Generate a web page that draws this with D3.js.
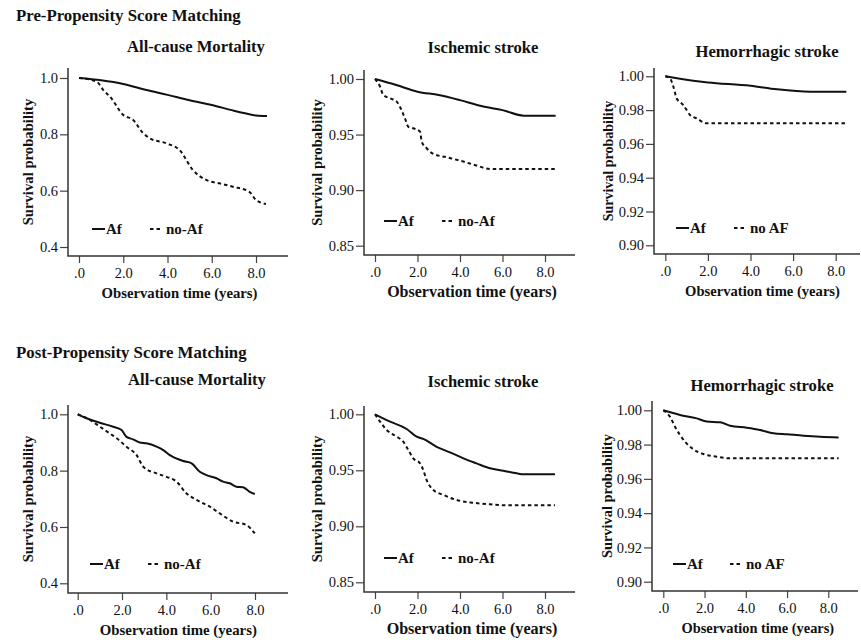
<!DOCTYPE html>
<html>
<head>
<meta charset="utf-8">
<script src="https://cdn.jsdelivr.net/npm/d3@7"></script>
<style>
  body { margin: 0; background: #fff; }
  text { font-family: "Liberation Serif", "Times New Roman", serif; fill: #111; }
</style>
</head>
<body>
<div id="chart"></div>
<script>
// Kaplan-Meier estimates: [years, survival]
const preMortalityAf = [[0, 1.0], [1, 0.992], [2, 0.979], [3, 0.958], [4, 0.94], [5, 0.921], [6, 0.904], [7, 0.884], [7.5, 0.875], [8, 0.867], [8.5, 0.865]]
const preMortalityNoAf = [[0, 1.0], [0.8, 0.987], [1.1, 0.957], [1.4, 0.934], [2.0, 0.869], [2.45, 0.851], [2.9, 0.804], [3.2, 0.786], [3.95, 0.768], [4.55, 0.744], [5.15, 0.673], [5.75, 0.638], [6.35, 0.626], [6.95, 0.614], [7.7, 0.596], [8.0, 0.567], [8.45, 0.553]]

const preIschemicAf = [[0, 1.0], [1, 0.9946], [2, 0.9886], [3, 0.9856], [4, 0.981], [5, 0.9757], [6, 0.972], [7, 0.967], [8.5, 0.967]]
const preIschemicNoAf = [[0, 1.0], [0.24, 0.993], [0.39, 0.9856], [0.71, 0.9826], [1.02, 0.9796], [1.25, 0.972], [1.41, 0.9646], [1.57, 0.957], [1.8, 0.9557], [2.12, 0.9526], [2.2, 0.9436], [2.43, 0.9377], [2.75, 0.9326], [3.37, 0.9296], [4.16, 0.9257], [4.78, 0.9221], [5.41, 0.919], [8.47, 0.919]]

const preHemorrhagicAf = [[0, 1.0], [1.31, 0.9974], [2, 0.9964], [4, 0.9944], [5.24, 0.9923], [6.8, 0.9909], [8.5, 0.9909]]
const preHemorrhagicNoAf = [[0, 1.0], [0.22, 0.9988], [0.38, 0.9938], [0.53, 0.987], [0.85, 0.983], [1.16, 0.9771], [1.47, 0.9751], [1.94, 0.9722], [8.5, 0.9722]]

const postMortalityAf = [[0, 1.0], [0.4, 0.986], [1.0, 0.97], [1.6, 0.956], [1.98, 0.944], [2.2, 0.92], [2.5, 0.911], [2.8, 0.9], [3.1, 0.897], [3.56, 0.885], [3.86, 0.873], [4.16, 0.855], [4.76, 0.834], [5.14, 0.826], [5.51, 0.796], [5.81, 0.784], [6.26, 0.773], [6.56, 0.761], [6.86, 0.755], [7.16, 0.743], [7.46, 0.741], [7.76, 0.725], [7.99, 0.717]]
const postMortalityNoAf = [[0, 1.0], [0.55, 0.98], [1.0, 0.956], [1.45, 0.932], [1.76, 0.915], [2.2, 0.885], [2.66, 0.855], [2.96, 0.814], [3.56, 0.79], [4.01, 0.778], [4.46, 0.761], [4.91, 0.719], [5.36, 0.696], [5.96, 0.672], [6.41, 0.648], [7.01, 0.619], [7.61, 0.607], [7.99, 0.577]]

const postIschemicAf = [[0, 1.0], [0.71, 0.9934], [1.49, 0.9869], [1.96, 0.98], [2.27, 0.978], [2.9, 0.971], [3.53, 0.966], [4.16, 0.9607], [4.78, 0.9562], [5.41, 0.9518], [6.04, 0.9496], [6.67, 0.9473], [6.98, 0.9464], [8.47, 0.9464]]
const postIschemicNoAf = [[0, 1.0], [0.24, 0.9934], [0.55, 0.986], [1.02, 0.98], [1.33, 0.9755], [1.57, 0.968], [1.8, 0.9607], [2.12, 0.9562], [2.27, 0.9503], [2.43, 0.9413], [2.75, 0.9324], [3.22, 0.928], [3.84, 0.9235], [4.63, 0.921], [5.41, 0.9196], [6.2, 0.9187], [8.47, 0.9187]]

const postHemorrhagicAf = [[0, 1.0], [0.81, 0.9973], [1.62, 0.9953], [2.11, 0.9934], [2.75, 0.993], [3.24, 0.991], [4.05, 0.9898], [4.69, 0.9885], [5.34, 0.9866], [5.99, 0.986], [6.8, 0.9852], [7.61, 0.9846], [8.5, 0.9842]]
const postHemorrhagicNoAf = [[0, 1.0], [0.32, 0.9963], [0.57, 0.9904], [0.81, 0.9856], [1.13, 0.9807], [1.46, 0.9772], [1.94, 0.9745], [2.59, 0.9729], [3.24, 0.972], [8.5, 0.972]]

const xTicks = [0, 2, 4, 6, 8]
const mortalityTicks = [0.4, 0.6, 0.8, 1.0]
const ischemicTicks = [0.85, 0.90, 0.95, 1.00]
const hemorrhagicTicks = [0.90, 0.92, 0.94, 0.96, 0.98, 1.00]

const sectionTitles = ['Pre-Propensity Score Matching', 'Post-Propensity Score Matching']

// Layout: pixel positions of first/last ticks, axis box and legend spot.
// The source panels were pasted at slightly different scales, hence the
// per-panel label sizes.
const panels = [
    { title: 'All-cause Mortality', af: preMortalityAf, noAf: preMortalityNoAf, ticks: mortalityTicks, fmt: '.1f',
      x: [79, 256], y: [247, 78], box: [68, 288, 68, 256], titleX: 196, titleY: 52, ylabX: 28,
      xlabSize: 14.7, ylabSize: 14.7, legend: [92, 229, 150], noLabel: 'no-Af' },
    { title: 'Ischemic stroke', af: preIschemicAf, noAf: preIschemicNoAf, ticks: ischemicTicks, fmt: '.2f',
      x: [375, 545], y: [245.7, 79], box: [364, 575, 70, 255], titleX: 483, titleY: 53, ylabX: 317,
      xlabSize: 16, ylabSize: 14.7, legend: [384, 221, 442], noLabel: 'no-Af' },
    { title: 'Hemorrhagic stroke', af: preHemorrhagicAf, noAf: preHemorrhagicNoAf, ticks: hemorrhagicTicks, fmt: '.2f',
      x: [665.3, 835.7], y: [245.3, 76.3], box: [654, 860, 68, 254], titleX: 767, titleY: 57, ylabX: 608,
      xlabSize: 14.6, ylabSize: 14, legend: [676, 228, 734], noLabel: 'no AF' },
    { title: 'All-cause Mortality', af: postMortalityAf, noAf: postMortalityNoAf, ticks: mortalityTicks, fmt: '.1f',
      x: [77.7, 255], y: [583.3, 414.3], box: [68, 288, 405, 593], titleX: 197, titleY: 385, ylabX: 28,
      xlabSize: 14.8, ylabSize: 14.7, legend: [90, 564, 148], noLabel: 'no-Af' },
    { title: 'Ischemic stroke', af: postIschemicAf, noAf: postIschemicNoAf, ticks: ischemicTicks, fmt: '.2f',
      x: [375, 545], y: [582.3, 414.3], box: [364, 575, 406, 592], titleX: 483, titleY: 387, ylabX: 317,
      xlabSize: 16.1, ylabSize: 14.7, legend: [384, 558, 442], noLabel: 'no-Af' },
    { title: 'Hemorrhagic stroke', af: postHemorrhagicAf, noAf: postHemorrhagicNoAf, ticks: hemorrhagicTicks, fmt: '.2f',
      x: [663.3, 828.3], y: [581.7, 410.3], box: [652, 858, 401, 591], titleX: 762, titleY: 391, ylabX: 607,
      xlabSize: 14.4, ylabSize: 14.4, legend: [673, 564, 730], noLabel: 'no AF' }
]

const DASH = '3.5,3'
const LINE_W = 2

const svg = d3.select('#chart').append('svg')
    .attr('width', 861)
    .attr('height', 640)

svg.selectAll('.section-title')
    .data(sectionTitles)
    .enter()
    .append('text')
    .attr('class', 'section-title')
    .attr('x', 16)
    .attr('y', (d, i) => i ? 358 : 21)
    .attr('font-size', 16.8)
    .attr('font-weight', 'bold')
    .text(d => d)

panels.forEach(p => drawPanel(p))

function drawPanel(p) {
    const [left, right, top, bottom] = p.box
    const lo = p.ticks[0], hi = p.ticks[p.ticks.length - 1]

    const x = d3.scaleLinear().domain([0, 8]).range(p.x)
    const y = d3.scaleLinear().domain([lo, hi]).range(p.y)

    const g = svg.append('g')

    // Axes: plain lines from the frame edges, with ticks
    const yAxis = d3.axisLeft(y)
        .tickValues(p.ticks)
        .tickFormat(d3.format(p.fmt))
        .tickSize(8)
        .tickPadding(2)
        .tickSizeOuter(0)
    const xAxis = d3.axisBottom(x)
        .tickValues(xTicks)
        .tickFormat(d => d === 0 ? '.0' : d.toFixed(1))
        .tickSize(7)
        .tickPadding(5)
        .tickSizeOuter(0)

    const ya = g.append('g').attr('transform', `translate(${left},0)`).call(yAxis)
    const xa = g.append('g').attr('transform', `translate(0,${bottom})`).call(xAxis)
    ya.select('.domain').remove()
    xa.select('.domain').remove()
    for (const a of [ya, xa]) {
        a.selectAll('text')
            .attr('font-size', 14.5)
            .attr('font-family', '"Liberation Serif", serif')
            .attr('fill', '#222')
        a.selectAll('line').attr('stroke', '#444').attr('stroke-width', 1.2)
    }

    g.append('path')
        .attr('d', `M${left},${top}V${bottom}H${right}`)
        .attr('fill', 'none')
        .attr('stroke', '#333')
        .attr('stroke-width', 1.5)

    // Survival curves
    const line = d3.line()
        .x(d => x(d[0]))
        .y(d => y(d[1]))
        .curve(d3.curveMonotoneX)

    g.append('path')
        .attr('d', line(p.af))
        .attr('fill', 'none')
        .attr('stroke', '#111')
        .attr('stroke-width', LINE_W)

    g.append('path')
        .attr('d', line(p.noAf))
        .attr('fill', 'none')
        .attr('stroke', '#111')
        .attr('stroke-width', LINE_W)
        .attr('stroke-dasharray', DASH)

    // Titles and labels
    g.append('text')
        .attr('x', p.titleX)
        .attr('y', p.titleY)
        .attr('text-anchor', 'middle')
        .attr('font-size', 16.6)
        .attr('font-weight', 'bold')
        .text(p.title)

    g.append('text')
        .attr('transform', `translate(${p.ylabX + 5},${(top + bottom) / 2}) rotate(-90)`)
        .attr('text-anchor', 'middle')
        .attr('font-size', p.ylabSize)
        .attr('font-weight', 'bold')
        .text('Survival probability')

    g.append('text')
        .attr('x', (x(0) + x(8)) / 2 + 12)
        .attr('y', bottom + 42)
        .attr('text-anchor', 'middle')
        .attr('font-size', p.xlabSize)
        .attr('font-weight', 'bold')
        .text('Observation time (years)')

    // Legend
    const [lx, ly, dx] = p.legend
    g.append('line')
        .attr('x1', lx).attr('x2', lx + 13)
        .attr('y1', ly).attr('y2', ly)
        .attr('stroke', '#111').attr('stroke-width', LINE_W)
    g.append('text')
        .attr('x', lx + 14).attr('y', ly + 5)
        .attr('font-size', 15).attr('font-weight', 'bold')
        .text('Af')
    g.append('line')
        .attr('x1', dx).attr('x2', dx + 13)
        .attr('y1', ly).attr('y2', ly)
        .attr('stroke', '#111').attr('stroke-width', LINE_W)
        .attr('stroke-dasharray', DASH)
    g.append('text')
        .attr('x', dx + 16).attr('y', ly + 5)
        .attr('font-size', 15).attr('font-weight', 'bold')
        .text(p.noLabel)
}
</script>
</body>
</html>
